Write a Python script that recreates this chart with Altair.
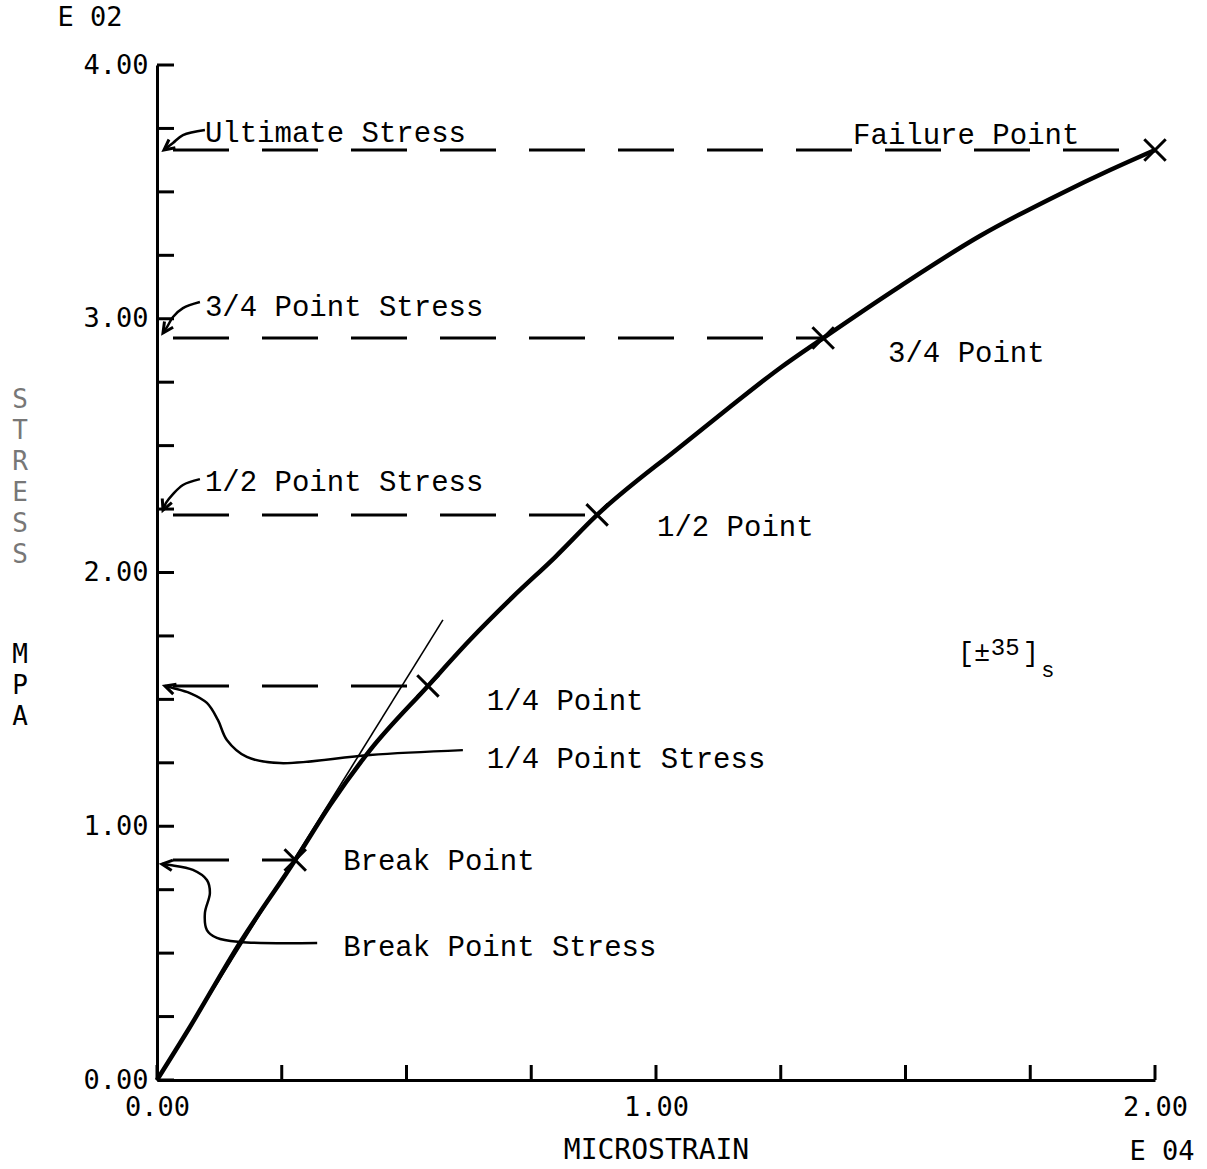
import altair as alt
import pandas as pd

# ---------------- data (x: microstrain x1E4, y: stress MPa x1E2) ----------------
curve_x = [0.0, 0.066, 0.166, 0.277, 0.347, 0.427, 0.543, 0.627, 0.711, 0.798,
           0.882, 1.048, 1.148, 1.248, 1.335, 1.489, 1.649, 1.810, 1.910, 2.0]
curve_y = [0.0, 0.209, 0.540, 0.867, 1.084, 1.300, 1.553, 1.734, 1.900, 2.061,
           2.227, 2.495, 2.652, 2.805, 2.924, 3.128, 3.326, 3.492, 3.586, 3.665]

point_names = ["Break Point", "1/4 Point", "1/2 Point", "3/4 Point", "Failure Point"]
point_x = [0.277, 0.543, 0.882, 1.335, 2.0]
point_y = [0.867, 1.553, 2.227, 2.924, 3.665]

tangent_x = [0.0, 0.573]
tangent_y = [0.0, 1.813]

y_tick_values = [0.0, 0.25, 0.5, 0.75, 1.0, 1.25, 1.5, 1.75, 2.0, 2.25, 2.5, 2.75,
                 3.0, 3.25, 3.5, 3.75, 4.0]
x_tick_values = [0.0, 0.25, 0.5, 0.75, 1.0, 1.25, 1.5, 1.75, 2.0]
y_label_values = [0, 1, 2, 3, 4]
x_label_values = [0, 1, 2]

# leader curves from labels to the stress axis
lead_ult_x = [0.096, 0.052, 0.032, 0.014]
lead_ult_y = [3.744, 3.724, 3.693, 3.665]
lead_34_x = [0.086, 0.052, 0.032, 0.020, 0.012]
lead_34_y = [3.066, 3.042, 3.007, 2.967, 2.944]
lead_12_x = [0.086, 0.052, 0.032, 0.018, 0.012]
lead_12_y = [2.368, 2.345, 2.309, 2.274, 2.246]
lead_14_x = [0.613, 0.427, 0.246, 0.180, 0.140, 0.122, 0.100, 0.066, 0.032, 0.016]
lead_14_y = [1.300, 1.281, 1.249, 1.273, 1.340, 1.419, 1.486, 1.525, 1.545, 1.553]
lead_bp_x = [0.321, 0.166, 0.120, 0.100, 0.096, 0.106, 0.100, 0.072, 0.026, 0.010]
lead_bp_y = [0.540, 0.544, 0.560, 0.591, 0.658, 0.737, 0.788, 0.828, 0.847, 0.851]

arrow_x = [0.014, 0.012, 0.012, 0.016, 0.010]
arrow_y = [3.665, 2.944, 2.246, 1.553, 0.851]
arrow_angle = [232, 214, 203, 288, 277]

label_text = ["Ultimate Stress", "Failure Point", "3/4 Point Stress", "3/4 Point",
              "1/2 Point Stress", "1/2 Point", "1/4 Point", "1/4 Point Stress",
              "Break Point", "Break Point Stress"]
label_x = [0.096, 1.395, 0.096, 1.465, 0.096, 1.002, 0.661, 0.661, 0.373, 0.373]
label_y = [3.732, 3.724, 3.046, 2.865, 2.357, 2.179, 1.494, 1.265, 0.863, 0.524]

lam_text = ["[±", "35", "]", "s"]
lam_x = [1.605, 1.671, 1.735, 1.772]
lam_y = [1.683, 1.702, 1.683, 1.616]
lam_size = [27, 24, 27, 22]

# ---------------- tables ----------------
curve_df = pd.DataFrame({"x": curve_x, "y": curve_y, "i": list(range(len(curve_x)))})
pts_df = pd.DataFrame({"name": point_names, "x": point_x, "y": point_y})
tan_df = pd.DataFrame({"x": tangent_x, "y": tangent_y})
yt_df = pd.DataFrame({"y": y_tick_values})
xt_df = pd.DataFrame({"x": x_tick_values})

leaders = []
for name, lx, ly in [("ult", lead_ult_x, lead_ult_y), ("34", lead_34_x, lead_34_y),
                     ("12", lead_12_x, lead_12_y), ("14", lead_14_x, lead_14_y),
                     ("bp", lead_bp_x, lead_bp_y)]:
    for k, (a, b) in enumerate(zip(lx, ly)):
        leaders.append({"leader": name, "i": k, "x": a, "y": b})
lead_df = pd.DataFrame(leaders)
arrow_df = pd.DataFrame({"x": arrow_x, "y": arrow_y, "angle": arrow_angle})
label_df = pd.DataFrame({"text": label_text, "x": label_x, "y": label_y})
lam_df = pd.DataFrame({"text": lam_text, "x": lam_x, "y": lam_y, "size": lam_size})
one_df = pd.DataFrame({"k": [0]})

W, H = 998, 1015
xs = alt.Scale(domain=[0, 2], nice=False, zero=False)
ys = alt.Scale(domain=[0, 4], nice=False, zero=False)

x_axis = alt.Axis(values=x_label_values, format=".2f", ticks=False, grid=False,
                  domainColor="black", domainWidth=3, labelFont="DejaVu Sans Mono",
                  labelFontSize=27, labelColor="black", labelPadding=14, labelFlush=False,
                  title="MICROSTRAIN", titleFont="DejaVu Sans Mono", titleFontSize=28,
                  titleFontWeight="normal", titleColor="black", titlePadding=16)
y_axis = alt.Axis(values=y_label_values, format=".2f", ticks=False, grid=False,
                  domainColor="black", domainWidth=3, labelFont="DejaVu Sans Mono",
                  labelFontSize=27, labelColor="black", labelPadding=9, labelFlush=False,
                  title=None)


def X(f="x"):
    return alt.X(f"{f}:Q", scale=xs, axis=x_axis)


def Y(f="y"):
    return alt.Y(f"{f}:Q", scale=ys, axis=y_axis)


dashed = alt.Chart(pts_df).transform_calculate(x0="0").mark_rule(
    color="black", strokeWidth=3, strokeDash=[56, 33], strokeDashOffset=73
).encode(x=X("x0"), x2=alt.X2("x:Q"), y=Y())

tangent = alt.Chart(tan_df).mark_line(color="black", strokeWidth=1.6).encode(x=X(), y=Y())

curve = alt.Chart(curve_df).mark_line(
    color="black", strokeWidth=4.5, interpolate="monotone"
).encode(x=X(), y=Y(), order="i:Q")

lead = alt.Chart(lead_df).mark_line(
    color="black", strokeWidth=2.5, interpolate="catmull-rom"
).encode(x=X(), y=Y(), detail="leader:N", order="i:Q")

arrows = alt.Chart(arrow_df).mark_point(
    shape="M-0.6,1.2L0,0L0.6,1.2", size=300, filled=False, color="black",
    strokeWidth=3, opacity=1
).encode(x=X(), y=Y(), angle=alt.Angle("angle:Q", scale=None))

markers = alt.Chart(pts_df).mark_point(
    shape="M-1,-1L1,1M-1,1L1,-1", size=460, filled=False, color="black",
    strokeWidth=3, opacity=1
).encode(x=X(), y=Y())

yticks = alt.Chart(yt_df).mark_rule(color="black", strokeWidth=3).encode(
    y=Y(), x=alt.value(0), x2=alt.value(17))
xticks = alt.Chart(xt_df).mark_rule(color="black", strokeWidth=3).encode(
    x=X(), y=alt.value(H), y2=alt.value(H - 15))

labels = alt.Chart(label_df).mark_text(
    font="Liberation Mono", fontSize=29, align="left", baseline="middle", color="black"
).encode(x=X(), y=Y(), text="text:N")

lam = alt.Chart(lam_df).mark_text(
    font="Liberation Mono", align="left", baseline="middle", color="black"
).encode(x=X(), y=Y(), text="text:N", size=alt.Size("size:Q", scale=None, legend=None))

e02 = alt.Chart(one_df).mark_text(font="DejaVu Sans Mono", fontSize=27, color="black",
                                  align="center", baseline="middle",
                                  x=-67, y=-47, text="E 02")
e04 = alt.Chart(one_df).mark_text(font="DejaVu Sans Mono", fontSize=27, color="black",
                                  align="center", baseline="middle",
                                  x=1005, y=1087, text="E 04")
stress = alt.Chart(one_df).mark_text(font="DejaVu Sans Mono", fontSize=26, color="#777777",
                                     align="center", baseline="middle", lineHeight=31,
                                     x=-137, y=335, text=["S", "T", "R", "E", "S", "S"])
mpa = alt.Chart(one_df).mark_text(font="DejaVu Sans Mono", fontSize=26, color="black",
                                  align="center", baseline="middle", lineHeight=31,
                                  x=-137, y=590, text=["M", "P", "A"])

chart = alt.layer(
    dashed, tangent, curve, lead, arrows, markers, yticks, xticks, labels, lam,
    e02, e04, stress, mpa
).properties(
    width=W, height=H,
    autosize=alt.AutoSizeParams(type="none"),
    padding={"left": 157, "top": 65, "right": 52, "bottom": 89},
    background="white",
).configure_view(stroke=None)

chart.save("out.html", embed_options={"renderer": "svg", "actions": False})
